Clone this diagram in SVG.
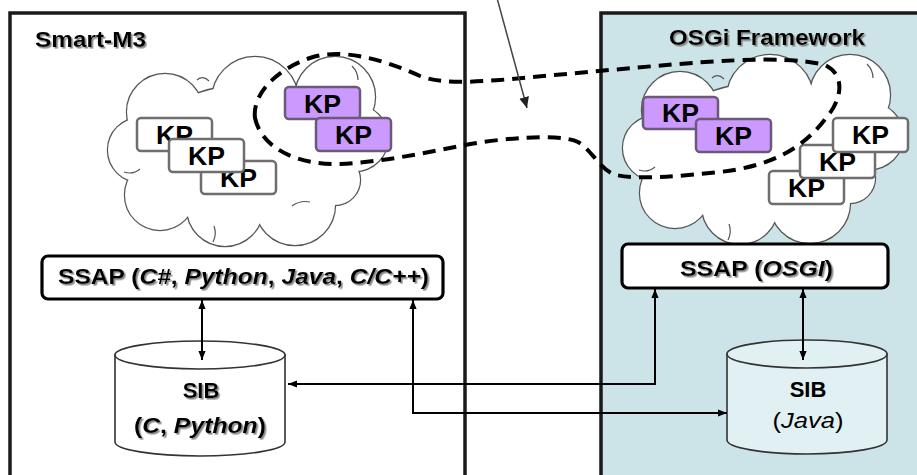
<svg xmlns="http://www.w3.org/2000/svg" xmlns:xlink="http://www.w3.org/1999/xlink" width="917" height="475" viewBox="0 0 917 475">
  <defs>
    <style>
      text { font-family: "Liberation Sans", Arial, sans-serif; fill: #000; }
      .frame { stroke: #1a1a1a; stroke-width: 3.5; }
      .frame-left { fill: #ffffff; }
      .frame-right { fill: #cce4e8; }
      .title { font-size: 22px; font-weight: bold; }
      .cloud-edge { fill: none; stroke: #555; stroke-width: 2.4; }
      .cloud-fill { fill: #ffffff; stroke: none; }
      .cloud-line { fill: none; stroke: #555; stroke-width: 1.2; }
      .kp rect { stroke: #6e6e6e; stroke-width: 2.5; }
      .kp-white rect { fill: #ffffff; }
      .kp-purple rect { fill: #cc99ff; stroke: #6a5a78; }
      .kp text { font-size: 25px; font-weight: bold; text-anchor: middle; }
      .share { fill: none; stroke: #000; stroke-width: 4; stroke-dasharray: 13 8; stroke-linecap: butt; }
      .ssap rect { fill: #ffffff; stroke: #000; stroke-width: 3.2; }
      .ssap text { font-size: 22px; font-weight: bold; }
      .sib path, .sib ellipse { stroke: #333; stroke-width: 1.6; }
      .sib-left path, .sib-left ellipse { fill: #ffffff; }
      .sib-right path, .sib-right ellipse { fill: #e0f0f3; }
      .sib text { font-size: 22px; text-anchor: middle; }
      .bold { font-weight: bold; }
      .it { font-style: italic; }
      .link { fill: none; stroke: #000; stroke-width: 2; marker-start: url(#head); marker-end: url(#head); }
      .pointer { fill: none; stroke: #444; stroke-width: 1.5; marker-end: url(#pointerHead); }
      .shadowed { filter: url(#softShadow); }
    </style>
    <filter id="softShadow" x="-5%" y="-20%" width="110%" height="150%">
      <feDropShadow dx="1.6" dy="1.6" stdDeviation="0.6" flood-color="#8a8a8a" flood-opacity="1"/>
    </filter>
    <marker id="head" viewBox="0 0 10 10" refX="10" refY="5" markerWidth="9" markerHeight="9" markerUnits="userSpaceOnUse" orient="auto-start-reverse">
      <path d="M0,1 L10,5 L0,9 Z" fill="#000"/>
    </marker>
    <marker id="pointerHead" viewBox="0 0 10 10" refX="10" refY="5" markerWidth="11" markerHeight="11" markerUnits="userSpaceOnUse" orient="auto">
      <path d="M0,0.5 L10,5 L0,9.5 Z" fill="#222"/>
    </marker>
    <!-- cloud silhouette built from overlapping circles -->
    <g id="cloudBlob">
      <circle cx="165" cy="112" r="38"/>
      <circle cx="255" cy="100" r="43"/>
      <circle cx="335" cy="97" r="40"/>
      <circle cx="355" cy="138" r="33"/>
      <circle cx="140" cy="150" r="32"/>
      <circle cx="160" cy="195" r="35"/>
      <circle cx="225" cy="208" r="38"/>
      <circle cx="295" cy="205" r="40"/>
      <circle cx="335" cy="180" r="25"/>
      <ellipse cx="250" cy="150" rx="105" ry="65"/>
    </g>
    <g id="cloudDetail">
      <path d="M197,80 q6,-5 12,1"/>
      <path d="M124,172 q9,3 16,-3"/>
      <path d="M214,226 q3,8 -1,16"/>
      <path d="M292,206 q8,-6 18,-4"/>
      <path d="M352,66 q6,6 6,14"/>
    </g>
  </defs>

  <!-- frames -->
  <g id="smart-m3">
    <rect class="frame frame-left" x="10" y="13" width="455" height="480"/>
    <text class="title shadowed" x="35" y="47" textLength="111" lengthAdjust="spacingAndGlyphs">Smart-M3</text>
  </g>
  <g id="osgi-framework">
    <rect class="frame frame-right" x="601" y="13" width="330" height="480"/>
    <text class="title shadowed" x="767" y="45" text-anchor="middle" textLength="196" lengthAdjust="spacingAndGlyphs">OSGi Framework</text>
  </g>

  <!-- clouds -->
  <g id="cloud-left">
    <use xlink:href="#cloudBlob" class="cloud-edge"/>
    <use xlink:href="#cloudBlob" class="cloud-fill"/>
    <use xlink:href="#cloudDetail" class="cloud-line"/>
  </g>
  <g id="cloud-right" transform="translate(515,-2)">
    <use xlink:href="#cloudBlob" class="cloud-edge"/>
    <use xlink:href="#cloudBlob" class="cloud-fill"/>
    <use xlink:href="#cloudDetail" class="cloud-line"/>
  </g>

  <!-- knowledge processors, Smart-M3 side -->
  <g id="kp-l1" class="kp kp-white">
    <rect x="137" y="118" width="75" height="33" rx="4"/>
    <text x="174.5" y="143.5" textLength="37" lengthAdjust="spacingAndGlyphs">KP</text>
  </g>
  <g id="kp-l3" class="kp kp-white">
    <rect x="201" y="161" width="75" height="33" rx="4"/>
    <text x="238.5" y="186.5" textLength="37" lengthAdjust="spacingAndGlyphs">KP</text>
  </g>
  <g id="kp-l2" class="kp kp-white">
    <rect x="169" y="139" width="75" height="33" rx="4"/>
    <text x="206.5" y="164.5" textLength="37" lengthAdjust="spacingAndGlyphs">KP</text>
  </g>
  <g id="kp-l4" class="kp kp-purple">
    <rect x="285" y="87" width="75" height="32" rx="4"/>
    <text x="322.5" y="112.5" textLength="37" lengthAdjust="spacingAndGlyphs">KP</text>
  </g>
  <g id="kp-l5" class="kp kp-purple">
    <rect x="316" y="118" width="75" height="33" rx="4"/>
    <text x="353.5" y="143.5" textLength="37" lengthAdjust="spacingAndGlyphs">KP</text>
  </g>

  <!-- knowledge processors, OSGi side -->
  <g id="kp-r1" class="kp kp-purple">
    <rect x="643" y="97" width="75" height="32" rx="4"/>
    <text x="680.5" y="122" textLength="37" lengthAdjust="spacingAndGlyphs">KP</text>
  </g>
  <g id="kp-r2" class="kp kp-purple">
    <rect x="696" y="119" width="75" height="33" rx="4"/>
    <text x="733.5" y="144.5" textLength="37" lengthAdjust="spacingAndGlyphs">KP</text>
  </g>
  <g id="kp-r5" class="kp kp-white">
    <rect x="769" y="171" width="75" height="33" rx="4"/>
    <text x="806.5" y="196.5" textLength="37" lengthAdjust="spacingAndGlyphs">KP</text>
  </g>
  <g id="kp-r4" class="kp kp-white">
    <rect x="800" y="145" width="75" height="33" rx="4"/>
    <text x="837.5" y="170.5" textLength="37" lengthAdjust="spacingAndGlyphs">KP</text>
  </g>
  <g id="kp-r3" class="kp kp-white">
    <rect x="833" y="118" width="75" height="34" rx="4"/>
    <text x="870.5" y="144" textLength="37" lengthAdjust="spacingAndGlyphs">KP</text>
  </g>

  <!-- dashed grouping of the shared KPs -->
  <g id="shared-space">
    <path class="share" d="M255,118 C252,95 275,70 310,58 C340,48 380,58 420,76 C440,84 470,82 500,80 L610,70 C700,62 780,54 825,65 C846,75 842,100 826,118 C802,150 770,166 720,172 C680,176 640,180 616,175 C600,170 592,150 578,142 C560,133 500,138 460,146 C420,154 380,162 340,164 C300,165 262,150 255,118 Z"/>
  </g>

  <!-- SSAP layers -->
  <g id="ssap-left" class="ssap">
    <rect x="42" y="256" width="401" height="43" rx="6"/>
    <text class="shadowed" x="58" y="284" textLength="371" lengthAdjust="spacingAndGlyphs">SSAP (<tspan class="it">C#</tspan>, <tspan class="it">Python</tspan>, <tspan class="it">Java</tspan>, <tspan class="it">C/C++</tspan>)</text>
  </g>
  <g id="ssap-right" class="ssap">
    <rect x="622" y="244" width="266" height="44" rx="6"/>
    <text class="shadowed" x="680" y="276" textLength="153" lengthAdjust="spacingAndGlyphs">SSAP (<tspan class="it">OSGI</tspan>)</text>
  </g>

  <!-- SIB stores -->
  <g id="sib-left" class="sib sib-left">
    <path d="M115,355 V442 A85,14 0 0 0 285,442 V355 Z"/>
    <ellipse cx="200" cy="355" rx="85" ry="14"/>
    <text class="bold shadowed" x="201" y="398">SIB</text>
    <text class="bold shadowed" x="200" y="433" textLength="132" lengthAdjust="spacingAndGlyphs">(<tspan class="it">C</tspan>, <tspan class="it">Python</tspan>)</text>
  </g>
  <g id="sib-right" class="sib sib-right">
    <path d="M727,354 V440 A80,14 0 0 0 887,440 V354 Z"/>
    <ellipse cx="807" cy="354" rx="80" ry="14"/>
    <text class="bold" x="808" y="397">SIB</text>
    <text x="808" y="428" textLength="71" lengthAdjust="spacingAndGlyphs">(<tspan class="it">Java</tspan>)</text>
  </g>

  <!-- connectors -->
  <g id="connectors">
    <path class="link" d="M202,300 V360"/>
    <path class="link" d="M803,289 V360"/>
    <path class="link" d="M655,289 V384 H288"/>
    <path class="link" d="M413,300 V413 H727"/>
    <path class="pointer" d="M497,-2 L527,108"/>
  </g>
</svg>
